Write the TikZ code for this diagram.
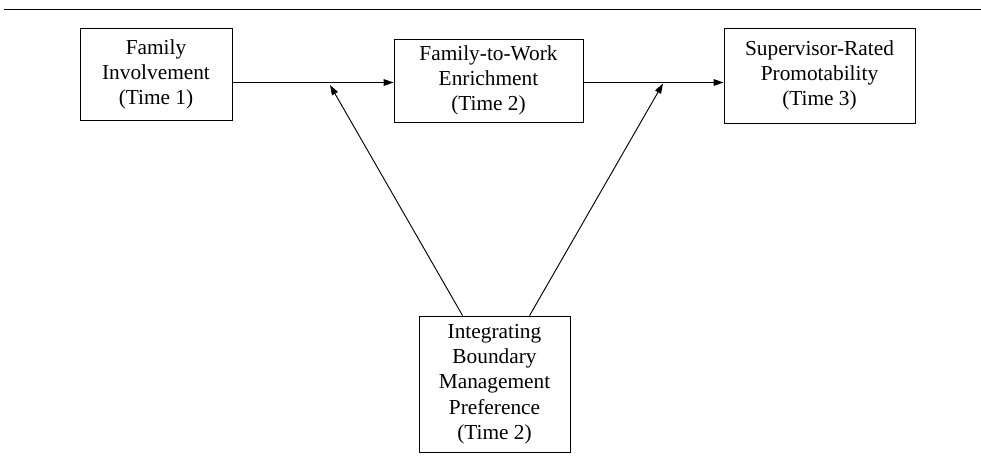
\documentclass[tikz,border=0pt]{standalone}
\usepackage{fontspec}
\setmainfont{Liberation Serif}
\usetikzlibrary{arrows.meta,calc}
\begin{document}
\begin{tikzpicture}[x=0.75pt,y=-0.75pt,
  box/.style={draw,line width=0.65pt,align=center,inner sep=0pt,
    font=\fontsize{16}{18.9}\selectfont},
  arr/.style={line width=0.7pt,-{Triangle[length=7.5pt,width=5pt]}},
  rule/.style={line width=1pt}]
\useasboundingbox (0,0) rectangle (981,462);
\coordinate (L) at (4,9.5);
\coordinate (R) at (981,9.5);
\draw[rule] (L) -- (R);
\node[box,minimum width=152*0.75pt,minimum height=92*0.75pt] (b1) at (156,74.5)
  {Family\\Involvement\\(Time 1)};
\node[box,minimum width=189*0.75pt,minimum height=83*0.75pt] (b2) at (488.5,80.5)
  {Family-to-Work\\Enrichment\\(Time 2)};
\node[box,minimum width=191*0.75pt,minimum height=95*0.75pt] (b3) at (819.5,75.5)
  {Supervisor-Rated\\Promotability\\(Time 3)};
\node[box,minimum width=151*0.75pt,minimum height=136*0.75pt] (b4) at (494.5,384)
  {Integrating\\Boundary\\Management\\Preference\\(Time 2)};
\coordinate (t1) at (330,85);
\coordinate (t2) at (663,83.5);
\draw[arr] (b1.east |- 0,82.5) -- (b2.west |- 0,82.5);
\draw[arr] (b2.east |- 0,82.5) -- (b3.west |- 0,82.5);
\draw[arr] ($(b4.north west)+(44,0)$) -- (t1);
\draw[arr] ($(b4.north west)+(111,0)$) -- (t2);
\end{tikzpicture}
\end{document}
